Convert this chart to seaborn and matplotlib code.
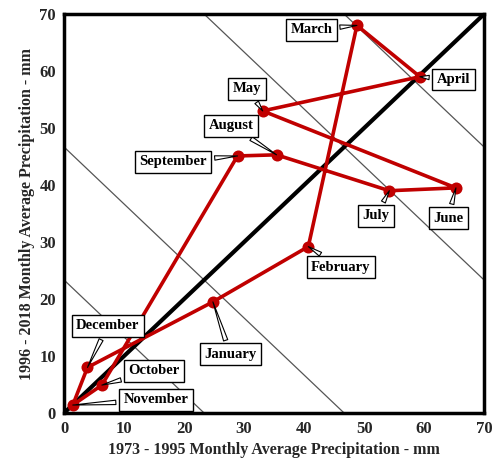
import matplotlib
matplotlib.use("Agg")
import matplotlib.pyplot as plt
import seaborn as sns
import pandas as pd

# Monthly average precipitation (mm), two periods
months = ["January", "February", "March", "April", "May", "June",
          "July", "August", "September", "October", "November", "December"]
early_period = [24.8, 40.7, 48.8, 59.3, 33.1, 65.3, 54.2, 35.4, 28.9, 6.3, 1.45, 3.9]
late_period = [19.5, 29.2, 68.0, 59.0, 53.0, 39.5, 39.0, 45.3, 45.1, 4.9, 1.4, 8.0]

# Constant-total reference lines (x + y = c)
total_levels = [70 / 3, 140 / 3, 280 / 3, 350 / 3]

# Callout text positions (data units) for each month
label_x = [27.7, 46.1, 41.2, 64.9, 30.5, 64.0, 52.0, 27.8, 18.2, 15.0, 15.3, 7.3]
label_y = [10.3, 25.6, 67.2, 58.5, 56.9, 34.2, 34.6, 50.4, 44.1, 7.4, 2.3, 15.3]

sns.set_theme(style="white")
plt.rcParams["font.family"] = ["Liberation Serif", "DejaVu Serif"]
plt.rcParams["font.weight"] = "bold"

fig = plt.figure(figsize=(4.93, 4.68), dpi=100)
ax = fig.add_axes([0.130, 0.1175, 0.852, 0.8525])

# Gray constant-total lines
for c in total_levels:
    ref = pd.DataFrame({"x": [0, c], "y": [c, 0]})
    sns.lineplot(data=ref, x="x", y="y", ax=ax, color="#555555", lw=0.9,
                 sort=False, estimator=None, zorder=1)

# 1:1 line
one = pd.DataFrame({"x": [0, 70], "y": [0, 70]})
sns.lineplot(data=one, x="x", y="y", ax=ax, color="black", lw=3.0,
             sort=False, estimator=None, zorder=2)

# Closed monthly loop
df = pd.DataFrame({"month": months, "early": early_period, "late": late_period})
loop = pd.concat([df, df.iloc[[0]]], ignore_index=True)
sns.lineplot(data=loop, x="early", y="late", ax=ax, color="#c00000", lw=2.6,
             sort=False, estimator=None, zorder=3)
sns.scatterplot(data=df, x="early", y="late", ax=ax, color="#c00000", s=75,
                edgecolor="#c00000", linewidth=0, zorder=4)

for m, px, py, tx, ty in zip(months, early_period, late_period, label_x, label_y):
    ax.annotate(m, xy=(px, py), xytext=(tx, ty), ha="center", va="center",
                fontsize=10.5, fontweight="bold", color="black", zorder=6,
                bbox=dict(boxstyle="square,pad=0.3", fc="white", ec="black", lw=1.0),
                arrowprops=dict(arrowstyle="wedge,tail_width=0.3,shrink_factor=0.5",
                                fc="white", ec="black", lw=0.8, shrinkB=0))

ax.set_xlim(0, 70)
ax.set_ylim(0, 70)
ax.set_xticks(range(0, 71, 10))
ax.set_yticks(range(0, 71, 10))
ax.tick_params(length=0, labelsize=12, pad=6)
for lab in ax.get_xticklabels() + ax.get_yticklabels():
    lab.set_fontweight("bold")
ax.set_xlabel("1973 - 1995 Monthly Average Precipitation - mm",
              fontsize=11.5, fontweight="bold", labelpad=3)
ax.set_ylabel("1996 - 2018 Monthly Average Precipitation - mm",
              fontsize=11.5, fontweight="bold", labelpad=3)
for s in ax.spines.values():
    s.set_visible(True)
    s.set_color("black")
    s.set_linewidth(2.5)
ax.grid(False)

fig.savefig("out.png", dpi=100, facecolor="white")
